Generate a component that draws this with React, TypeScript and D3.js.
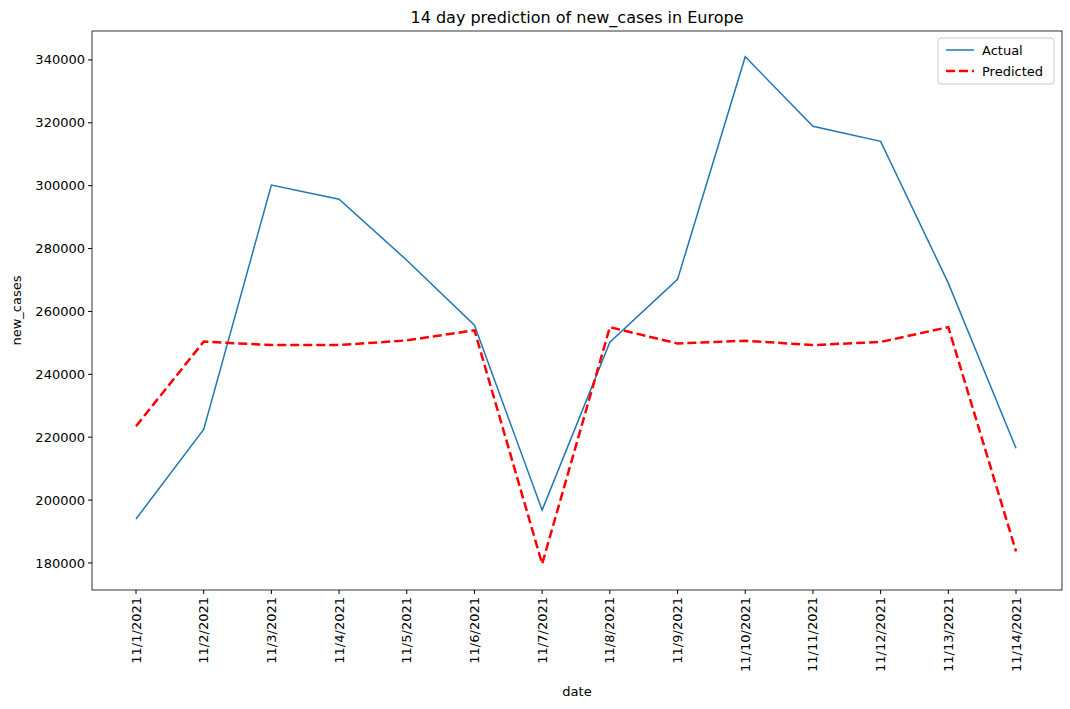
import React from "react";
import * as d3 from "d3";

const dates = [
  "11/1/2021", "11/2/2021", "11/3/2021", "11/4/2021", "11/5/2021", "11/6/2021", "11/7/2021",
  "11/8/2021", "11/9/2021", "11/10/2021", "11/11/2021", "11/12/2021", "11/13/2021", "11/14/2021",
];
const actual = [194000, 222500, 300200, 295700, 276300, 255600, 196800, 250200, 270200, 341000, 318900, 314100, 269000, 216500];
const predicted = [223500, 250400, 249300, 249300, 250800, 254000, 179700, 255000, 249800, 250700, 249300, 250300, 255000, 183700];
const yTicks = [180000, 200000, 220000, 240000, 260000, 280000, 300000, 320000, 340000];

const W = 1070, H = 709;
const m = { left: 92, right: 1062, top: 31, bottom: 590 };
const font = "DejaVu Sans, sans-serif";

export default function App() {
  const x = d3.scalePoint<string>().domain(dates).range([136, 1016]);
  const y = d3.scaleLinear().domain([171400, 349200]).range([m.bottom, m.top]);
  const line = d3.line<number>().x((_, i) => x(dates[i])!).y((v) => y(v));

  return (
    <svg width={W} height={H} style={{ position: "absolute", left: 0, top: 0, fontFamily: font }}>
      <rect width={W} height={H} fill="#fff" />
      <text x={(m.left + m.right) / 2} y={23} textAnchor="middle" fontSize={16}>
        14 day prediction of new_cases in Europe
      </text>
      <path d={line(actual)!} fill="none" stroke="#1f77b4" strokeWidth={1.5} />
      <path d={line(predicted)!} fill="none" stroke="#ff0000" strokeWidth={2.5} strokeDasharray="9,4" />
      <rect x={m.left} y={m.top} width={m.right - m.left} height={m.bottom - m.top} fill="none" stroke="#000" strokeWidth={0.8} />
      {yTicks.map((t) => (
        <g key={t} transform={`translate(${m.left},${y(t)})`}>
          <line x2={-4} stroke="#000" />
          <text x={-7} dy="0.35em" textAnchor="end" fontSize={13}>{t}</text>
        </g>
      ))}
      {dates.map((d) => (
        <g key={d} transform={`translate(${x(d)},${m.bottom})`}>
          <line y2={4} stroke="#000" />
          <text transform="translate(0,7) rotate(-90)" dy="0.35em" textAnchor="end" fontSize={13}>{d}</text>
        </g>
      ))}
      <text x={(m.left + m.right) / 2} y={696} textAnchor="middle" fontSize={13}>date</text>
      <text transform={`translate(21,${(m.top + m.bottom) / 2}) rotate(-90)`} textAnchor="middle" fontSize={13}>new_cases</text>
      <g transform="translate(938,38)">
        <rect width={116} height={46} rx={3} fill="#fff" stroke="#ccc" />
        <line x1={8} x2={36} y1={12} y2={12} stroke="#1f77b4" strokeWidth={1.5} />
        <text x={44} y={12} dy="0.35em" fontSize={13}>Actual</text>
        <line x1={8} x2={36} y1={33} y2={33} stroke="#ff0000" strokeWidth={2.5} strokeDasharray="9,4" />
        <text x={44} y={33} dy="0.35em" fontSize={13}>Predicted</text>
      </g>
    </svg>
  );
}
